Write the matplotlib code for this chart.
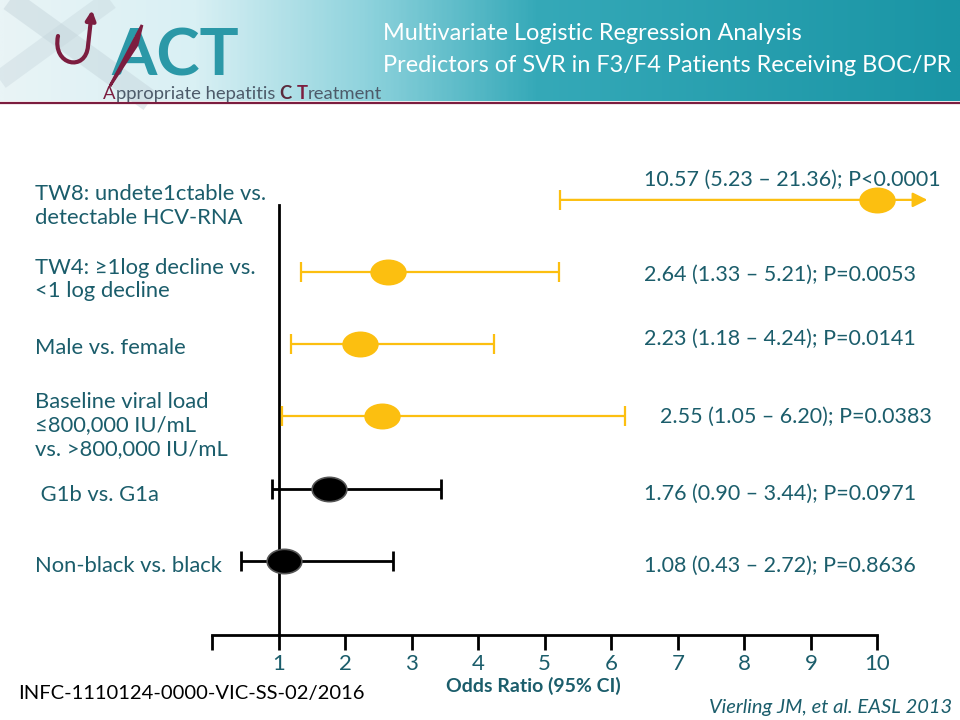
import numpy as np
import matplotlib
matplotlib.use("Agg")
import matplotlib.pyplot as plt
from matplotlib.path import Path
from matplotlib.markers import MarkerStyle
from matplotlib.patches import FancyArrowPatch, PathPatch
from matplotlib.colors import LinearSegmentedColormap

# data
labels = [
    "TW8: undete1ctable vs.\ndetectable HCV-RNA",
    "TW4: \u22651log decline vs.\n<1 log decline",
    "Male vs. female",
    "Baseline viral load\n\u2264800,000 IU/mL\nvs. >800,000 IU/mL",
    " G1b vs. G1a",
    "Non-black vs. black",
]
odds = [10.57, 2.64, 2.23, 2.55, 1.76, 1.08]
ci_lo = [5.23, 1.33, 1.18, 1.05, 0.90, 0.43]
ci_hi = [21.36, 5.21, 4.24, 6.20, 3.44, 2.72]
p_text = ["P<0.0001", "P=0.0053", "P=0.0141", "P=0.0383", "P=0.0971", "P=0.8636"]
p_vals = [0.0001, 0.0053, 0.0141, 0.0383, 0.0971, 0.8636]
xticks = list(range(0, 11))

TEAL = "#1b5d6b"
GOLD = "#fcbf10"
MAROON = "#7c1d3f"
AX_MAX = 10          # last labelled tick
ARROW_TIP = 10.75    # where truncated CIs end

plt.rcParams["font.family"] = ["Lato", "DejaVu Sans"]

fig = plt.figure(figsize=(9.6, 7.2), dpi=100)

# background / decorations in pixel coordinates
bg = fig.add_axes([0, 0, 1, 1], zorder=0)
bg.set_xlim(0, 960)
bg.set_ylim(720, 0)
bg.axis("off")

cmap = LinearSegmentedColormap.from_list(
    "hdr", [(0.0, "#e9f4f6"), (0.2, "#d9f0f4"), (0.38, "#8fd3dd"),
            (0.56, "#35a9b8"), (1.0, "#1a95a5")])
grad = np.linspace(0, 1, 400).reshape(1, -1)
bg.imshow(grad, cmap=cmap, extent=(0, 960, 101, 0), aspect="auto", zorder=0)
# faint X shape behind logo
bg.plot([10, 150], [0, 101], color="#c3d3da", lw=16, alpha=0.45, zorder=1,
        solid_capstyle="butt")
bg.plot([0, 110], [80, 0], color="#c3d3da", lw=14, alpha=0.35, zorder=1,
        solid_capstyle="butt")
bg.plot([0, 960], [102.5, 102.5], color=MAROON, lw=1.6, zorder=2)

# logo
swirl = Path([(58, 36), (52, 66), (86, 72), (88, 46), (92, 10)],
             [Path.MOVETO, Path.CURVE4, Path.CURVE4, Path.CURVE4, Path.LINETO])
bg.add_patch(FancyArrowPatch(path=swirl, arrowstyle="-|>", mutation_scale=14,
                             color=MAROON, lw=3, zorder=3))
bg.text(111, 75, "ACT", color="#2b98a7", fontsize=47, fontweight="bold",
        va="baseline", ha="left", zorder=3)
bg.add_patch(PathPatch(Path([(110, 86), (142, 25), (137, 45), (110, 86)]),
                       color=MAROON, lw=2, zorder=4))
renderer = fig.canvas.get_renderer()
xpos = 103
for piece, col, wt in [("A", MAROON, "normal"), ("ppropriate hepatitis ", "#4d5b6a", "normal"),
                       ("C", "#5a2a3c", "bold"), (" ", "#4d5b6a", "normal"),
                       ("T", MAROON, "bold"), ("reatment", "#4d5b6a", "normal")]:
    t = bg.text(xpos, 99, piece, color=col, fontsize=13.3, fontweight=wt,
                va="baseline", ha="left", zorder=4)
    bb = t.get_window_extent(renderer)
    xpos += bb.width

bg.text(383, 34, "Multivariate Logistic Regression Analysis", color="white",
        fontsize=16.9, va="center", ha="left", zorder=3)
bg.text(383, 66, "Predictors of SVR in F3/F4 Patients Receiving BOC/PR",
        color="white", fontsize=16.9, va="center", ha="left", zorder=3)

# forest plot axes
ax = fig.add_axes([212 / 960, 1 - 635 / 720, 732 / 960, 464 / 720], zorder=2)
ax.patch.set_alpha(0)
ax.set_xlim(0, 11)
ax.set_ylim(6.03, -0.4)
for s in ["top", "right", "left"]:
    ax.spines[s].set_visible(False)
ax.spines["bottom"].set_bounds(0, AX_MAX)
ax.spines["bottom"].set_linewidth(2)
ax.set_xticks(xticks)
ax.set_xticklabels(["" if v == 0 else str(v) for v in xticks])
ax.tick_params(axis="x", direction="out", length=11, width=2, pad=3,
               labelsize=16, labelcolor=TEAL)
ax.set_yticks([])
ax.axvline(1, ymin=0, ymax=0.927, color="black", lw=2)

oval = Path.unit_circle().transformed(matplotlib.transforms.Affine2D().scale(1, 0.7))
rows = np.arange(len(odds))
for i in rows:
    col = GOLD if p_vals[i] < 0.05 else "black"
    lw = 1.6 if col == GOLD else 2.0
    if ci_hi[i] > AX_MAX:
        ax.annotate("", xy=(ARROW_TIP, i), xytext=(ci_lo[i], i),
                    arrowprops=dict(arrowstyle="-|>", color=col, lw=lw,
                                    mutation_scale=22, shrinkA=0, shrinkB=0))
        ax.plot([ci_lo[i]], [i], marker="|", ms=14, mew=lw, color=col)
    else:
        ax.errorbar([odds[i]], [i], xerr=[[odds[i] - ci_lo[i]], [ci_hi[i] - odds[i]]],
                    fmt="none", ecolor=col, elinewidth=lw, capsize=7, capthick=lw)
    ax.plot([min(odds[i], AX_MAX)], [i], marker=MarkerStyle(oval), ms=25,
            color=col, mec="#555555" if col == "black" else GOLD, mew=1.2, zorder=5)

# row labels and estimates
label_dy = [0.08, 0.1, 0.05, 0.12, 0.08, 0.07]
label_x = [35, 35, 35, 35, 35, 35]
value_dy = [-0.28, 0.03, -0.07, 0.0, 0.07, 0.07]
value_x = [644, 644, 644, 660, 644, 644]
for i in rows:
    y_px = 200 + i * 72.2
    bg.text(label_x[i], y_px + label_dy[i] * 72.2, labels[i], color=TEAL,
            fontsize=15.8, va="center", ha="left", linespacing=1.22, zorder=3)
    txt = f"{odds[i]:.2f} ({ci_lo[i]:.2f} \u2013 {ci_hi[i]:.2f}); {p_text[i]}"
    bg.text(value_x[i], y_px + value_dy[i] * 72.2, txt, color=TEAL,
            fontsize=15.5, va="center", ha="left", zorder=3)

bg.text(533, 686, "Odds Ratio (95% CI)", color=TEAL, fontsize=14,
        fontweight="bold", ha="center", va="center", zorder=3)
bg.text(18, 693, "INFC-1110124-0000-VIC-SS-02/2016", color="black",
        fontsize=14.5, ha="left", va="center", zorder=3)
bg.text(952, 707, "Vierling JM, et al. EASL 2013", color=TEAL, fontsize=14.5,
        style="italic", ha="right", va="center", zorder=3)

fig.savefig("out.png", dpi=100)
